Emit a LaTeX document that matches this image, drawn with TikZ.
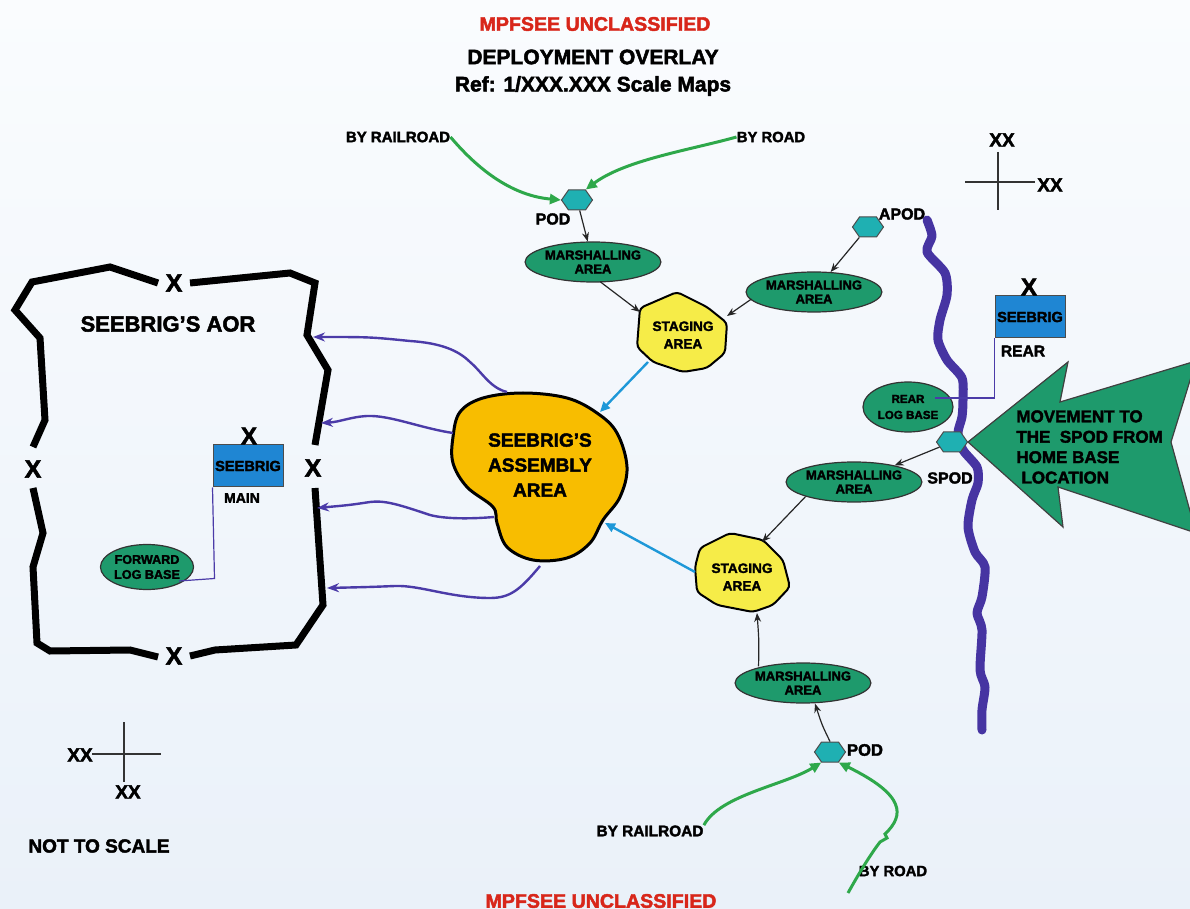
\documentclass[tikz,border=0pt]{standalone}
\usepackage{fontspec}
\setmainfont{Liberation Sans}[BoldFeatures={FakeBold=2.2}]
\usetikzlibrary{shapes.geometric,shapes.symbols,arrows.meta,calc}

\definecolor{classred}{HTML}{D8261A}
\definecolor{areagreen}{HTML}{1E9A6C}
\definecolor{podteal}{HTML}{1FB0B2}
\definecolor{moveblue}{HTML}{4B3BA8}
\definecolor{rivblue}{HTML}{4634A2}
\definecolor{feedblue}{HTML}{1E98D8}
\definecolor{routegreen}{HTML}{2EA84A}
\definecolor{unitblue}{HTML}{1F86D3}
\definecolor{stageyellow}{HTML}{F6EC48}
\definecolor{assemblygold}{HTML}{F8BD00}
\definecolor{bgtop}{HTML}{FAFCFE}
\definecolor{bgbottom}{HTML}{EAF1F9}

\newcommand\tsz[2]{\fontsize{#1}{#2}\selectfont\bfseries}

\begin{document}
\begin{tikzpicture}[x=0.5pt,y=-0.5pt,
  lbl/.style={inner sep=0pt, text=black},
  marsh/.style={ellipse, draw=black!80, line width=0.6pt, fill=areagreen,
    inner sep=0pt, minimum width=61pt, minimum height=20pt, align=center,
    font=\tsz{6.5}{7}},
  logbase/.style={ellipse, draw=black!80, line width=0.6pt, fill=areagreen,
    inner sep=0pt, align=center},
  podhex/.style={signal, signal to=east and west, signal pointer angle=110,
    draw=black!70, fill=podteal, minimum width=15.5pt, minimum height=10pt,
    inner sep=0pt, line width=0.5pt},
  unitbox/.style={rectangle, fill=unitblue, draw=black!70, line width=0.5pt,
    minimum width=35pt, minimum height=21pt, inner sep=0pt, font=\tsz{7.3}{8}},
  flow/.style={black!85, line width=0.6pt, -{Stealth[length=4.5pt,width=3.5pt]}},
  route/.style={routegreen, line width=1.5pt, -{Triangle[length=5.5pt,width=5pt]}},
  feed/.style={feedblue, line width=1.2pt, -{Triangle[length=5pt,width=4.5pt]}},
  move/.style={moveblue, line width=1.2pt, -{Stealth[length=6pt,width=4.5pt]}},
  boundary/.style={black, line width=3.5pt, line join=miter},
  staff/.style={moveblue, line width=0.6pt},
  gridline/.style={black!80, line width=0.7pt}]

% paper
\fill[top color=bgtop, bottom color=bgbottom] (0,0) rectangle (1190,909);
\useasboundingbox (0,0) rectangle (1190,909);
\clip (0,0) rectangle (1190,909);

% headings
\node[lbl, text=classred, font=\tsz{9.8}{11}] (clstop) at (595,24) {MPFSEE UNCLASSIFIED};
\node[lbl, font=\tsz{10.5}{12}] (ttl) at (593,57) {DEPLOYMENT OVERLAY};
\node[lbl, font=\tsz{10.5}{12}] (ref) at (593,86) {Ref: 1/XXX.XXX Scale Maps};
\node[lbl, text=classred, font=\tsz{9.8}{11}] (clsbot) at (601,901) {MPFSEE UNCLASSIFIED};

% grid reference crosses
\coordinate (gA) at (998,152); \coordinate (gB) at (998,210);
\coordinate (gC) at (965,182); \coordinate (gD) at (1035,182);
\draw[gridline] (gA) -- (gB);
\draw[gridline] (gC) -- (gD);
\node[lbl, font=\tsz{9.5}{10}] (xxtop) at (1002,140) {XX};
\node[lbl, font=\tsz{9.5}{10}] (xxright) at (1050,185) {XX};

\coordinate (gE) at (124,722); \coordinate (gF) at (124,782);
\coordinate (gG) at (92,754); \coordinate (gH) at (161,754);
\draw[gridline] (gE) -- (gF);
\draw[gridline] (gG) -- (gH);
\node[lbl, font=\tsz{9.5}{10}] (xxleft) at (80,755) {XX};
\node[lbl, font=\tsz{9.5}{10}] (xxbot) at (128,792) {XX};
\node[lbl, font=\tsz{9.5}{10}] (nts) at (99,846) {NOT TO SCALE};

% area of responsibility boundary
\draw[boundary] (158,283) -- (110,267) -- (32,282) -- (15,310) -- (40,338)
  -- (45,420) -- (33,447);
\draw[boundary] (190,283) -- (290,273) -- (315,283) -- (307,335) -- (328,370)
  -- (315,445);
\draw[boundary] (315,488) -- (323,605) -- (296,645) -- (215,650) -- (190,656);
\draw[boundary] (33,488) -- (43,533) -- (33,567) -- (37,643) -- (50,651)
  -- (130,650) -- (158,657);
\node[lbl, font=\tsz{12.5}{13}] (xaortop) at (174,283) {X};
\node[lbl, font=\tsz{12.5}{13}] (xaorleft) at (33,469) {X};
\node[lbl, font=\tsz{12.5}{13}] (xaorright) at (313,468) {X};
\node[lbl, font=\tsz{12.5}{13}] (xaorbot) at (174,656) {X};
\node[lbl, font=\tsz{11}{12}] (aor) at (168,324) {SEEBRIG'S AOR};

% brigade main headquarters and forward log base
\node[logbase, minimum width=45.5pt, minimum height=22.5pt,
  font=\tsz{6.3}{7.5}] (fwdlog) at (147,567) {FORWARD\\LOG BASE};
\node[unitbox] (mainbox) at (248,466) {SEEBRIG};
\node[lbl, font=\tsz{12}{13}] (xmain) at (249,436) {X};
\node[lbl, font=\tsz{7}{8}] (mainlbl) at (242,498) {MAIN};
\draw[staff] (mainbox.south west) -- ++(2,91) -- ($(fwdlog.center)+(32,14)$);

% river
\draw[rivblue, line width=4.5pt, line cap=round, line join=round]
  plot[smooth, tension=0.45] coordinates {(927,220) (932,236) (927,252) (945,273)
  (947,295) (940,320) (938,340) (947,360) (962,378) (963,400) (962,417)
  (958,433) (963,450) (977,467) (978,483) (972,500) (968,527) (975,552)
  (985,567) (982,597) (977,613) (982,630) (980,670) (985,687) (982,710)
  (982,730)};

% rear log base and brigade rear
\node[logbase, minimum width=45pt, minimum height=25pt,
  font=\tsz{5.8}{8}] (rearlog) at (908,407) {REAR\\LOG BASE};
\node[unitbox] (rearbox) at (1030,317) {SEEBRIG};
\node[lbl, font=\tsz{12}{13}] (xrear) at (1029,287) {X};
\node[lbl, font=\tsz{7.8}{8}] (rearlbl) at (1023,351) {REAR};
\draw[staff] (rearbox.south west) |- ($(rearlog.center)+(27,-9)$);

% movement from home base
\draw[fill=areagreen, draw=black!75, line width=0.6pt]
  (968,442) -- (1068,362) -- (1060,402) -- (1196,361) -- (1171,442)
  -- (1196,533) -- (1058,487) -- (1063,527) -- cycle;
\node[lbl, align=left, anchor=west, font=\tsz{8.5}{10.2}] (movetxt) at (1016,447)
  {MOVEMENT TO\\THE~~SPOD FROM\\HOME BASE\\\hspace*{0.3em}LOCATION};

% ports
\node[podhex] (pod1) at (577,200) {};
\node[podhex] (apod) at (868,227) {};
\node[podhex] (spod) at (952,442) {};
\node[podhex] (pod2) at (830,752) {};
\node[lbl, font=\tsz{8}{9}] (pod1lbl) at (553,219) {POD};
\node[lbl, font=\tsz{8}{9}] (apodlbl) at (902,214) {APOD};
\node[lbl, font=\tsz{8}{9}] (spodlbl) at (950,478) {SPOD};
\node[lbl, font=\tsz{8.3}{9}] (pod2lbl) at (865,750) {POD};

% arrival routes
\node[lbl, font=\tsz{7.5}{8}] (rail1) at (398,137) {BY RAILROAD};
\node[lbl, font=\tsz{7.4}{8}] (road1) at (771,137) {BY ROAD};
\node[lbl, font=\tsz{7.7}{8}] (rail2) at (650,831) {BY RAILROAD};
\node[lbl, font=\tsz{7.4}{8}] (road2) at (893,871) {BY ROAD};
\draw[route] (rail1.east) .. controls (470,160) and (505,195) .. (pod1.west);
\draw[route] (road1.west) .. controls (690,150) and (625,160) .. (pod1.north east);
\draw[route] (rail2.north east) .. controls (720,795) and (785,785) .. (pod2.south west);
\draw[route] (848,893) .. controls (858,875) and (870,855) .. (880,842)
  -- (887,838) -- (885,834) .. controls (905,815) and (905,795) .. (pod2.south east);

% marshalling areas
\node[marsh] (m1) at (593,262) {MARSHALLING\\AREA};
\node[marsh] (m2) at (814,292) {MARSHALLING\\AREA};
\node[marsh] (m3) at (854,482) {MARSHALLING\\AREA};
\node[marsh] (m4) at (803,683) {MARSHALLING\\AREA};

% staging areas
\draw[fill=stageyellow, draw=black, line width=1pt, rounded corners=2pt]
  (640,308) -- (677,292) -- (707,307) -- (727,323) -- (725,353) -- (707,368)
  -- (683,372) -- (653,362) -- (637,347) -- cycle;
\node[lbl, align=center, font=\tsz{6.8}{8.8}] (stgA) at (683,335) {STAGING\\AREA};
\draw[fill=stageyellow, draw=black, line width=1pt, rounded corners=2pt]
  (700,548) -- (730,533) -- (763,540) -- (783,560) -- (790,587) -- (773,605)
  -- (753,612) -- (717,605) -- (697,592) -- (695,567) -- cycle;
\node[lbl, align=center, font=\tsz{6.8}{8.8}] (stgB) at (742,577) {STAGING\\AREA};
\coordinate (stgAnw) at (640,312);
\coordinate (stgAe) at (727,316);
\coordinate (stgAsw) at (648,362);
\coordinate (stgBne) at (762,542);
\coordinate (stgBs) at (757,613);
\coordinate (stgBw) at (695,572);

% assembly area
\draw[fill=assemblygold, draw=black, line width=1.5pt]
  plot[smooth cycle, tension=0.6] coordinates {(460,412) (483,398) (523,393)
  (567,398) (597,413) (617,433) (627,467) (620,497) (603,520) (590,543)
  (567,558) (533,560) (507,547) (497,523) (493,507) (467,487) (453,463)
  (453,437)};
\node[lbl, align=center, font=\tsz{9.5}{12.5}] (asm) at (540,465)
  {SEEBRIG'S\\ASSEMBLY\\AREA};
\coordinate (asmne) at (600,412);
\coordinate (asmse) at (605,523);
\coordinate (asmA) at (507,392);
\coordinate (asmB) at (453,433);
\coordinate (asmC) at (494,517);
\coordinate (asmD) at (540,566);
\coordinate (aorA) at (313,337);
\coordinate (aorB) at (321,423);
\coordinate (aorC) at (317,508);
\coordinate (aorD) at (327,588);

% flow through the ports
\draw[flow] (pod1) -- (m1);
\draw[flow] ($(m1.south)+(7,-1)$) -- (stgAnw);
\draw[flow] (apod) -- (m2);
\draw[flow] ($(m2.west)+(6,7)$) -- (stgAe);
\draw[flow] (spod) -- (m3);
\draw[flow] (m3.south west) -- (stgBne);
\draw[flow] ($(m4.north west)+(4,-2)$) .. controls (759,640) .. (stgBs);
\draw[flow] (pod2.north) .. controls (822,725) .. ($(m4.south)+(12,0)$);

% staging to assembly
\draw[feed] (stgAsw) -- (asmne);
\draw[feed] (stgBw) -- (asmse);

% assembly to area of responsibility
\draw[move] (asmA) .. controls (490,388) and (482,372) .. (470,362)
  .. controls (458,350) and (440,343) .. (410,341) .. controls (370,337) .. (aorA);
\draw[move] (asmB) .. controls (420,428) and (390,415) .. (367,416)
  .. controls (350,417) and (340,422) .. (aorB);
\draw[move] (asmC) .. controls (470,519) and (445,519) .. (430,515)
  .. controls (400,505) and (385,500) .. (370,502) .. controls (350,505) .. (aorC);
\draw[move] (asmD) .. controls (520,590) and (510,598) .. (490,598)
  .. controls (450,598) and (420,585) .. (395,586) .. controls (370,587) .. (aorD);
\end{tikzpicture}
\end{document}
